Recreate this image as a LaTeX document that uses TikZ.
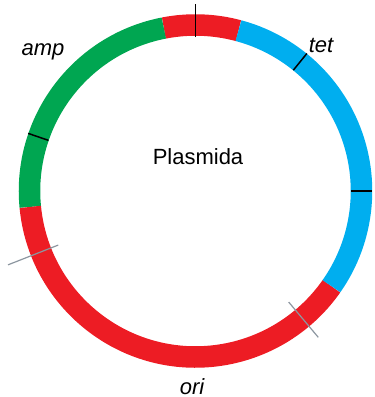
\documentclass[tikz,border=0pt]{standalone}
\usepackage{fontspec}
\setmainfont{Liberation Sans}
\definecolor{plgreen}{RGB}{0,166,81}
\definecolor{plred}{RGB}{237,28,36}
\definecolor{plblue}{RGB}{0,174,239}
\definecolor{plgrey}{RGB}{140,150,160}
\tikzset{
  ring/.style={line width=21.5pt},
  cut/.style={black,line width=1.5pt},
  greycut/.style={plgrey,line width=1.2pt},
  genename/.style={font=\fontsize{22}{26}\selectfont\itshape,anchor=base}
}
\begin{document}
\begin{tikzpicture}[x=1pt,y=1pt]
    \useasboundingbox (-195.5,-206) rectangle (179.5,191);
    % ring
    \draw[ring,plred]   (75:166) arc[start angle=75,end angle=101,radius=166];
    \draw[ring,plgreen] (101:166) arc[start angle=101,end angle=185.5,radius=166];
    \draw[ring,plred]   (185.5:166) arc[start angle=185.5,end angle=325,radius=166];
    \draw[ring,plblue]  (-35:166) arc[start angle=-35,end angle=75,radius=166];
    % cuts
    \draw[cut] (90:154) -- (90:187);
    \foreach \a in {51,0,161}
        \draw[cut] (\a:155.5) -- (\a:177);
    \draw[greycut] (-50:145) -- (-50:191);
    \draw[greycut] (201.5:147.5) -- (201.5:201.5);
    % labels
    \node[genename] (amp) at (-152.5,136) {amp};
    \node[genename] (tet) at (125.5,139) {tet};
    \node[genename] (ori) at (-3.5,-203.5) {ori};
    \node[font=\fontsize{22}{26}\selectfont,anchor=base] (plasmid) at (2.5,27) {Plasmida};
\end{tikzpicture}
\end{document}
